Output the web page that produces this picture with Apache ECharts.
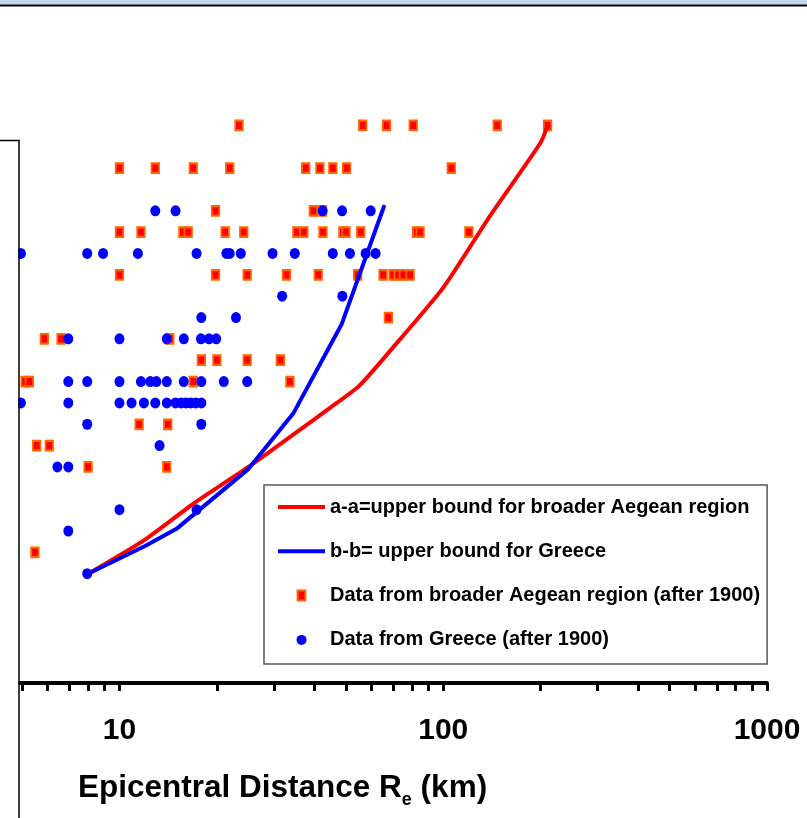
<!DOCTYPE html>
<html>
<head>
<meta charset="utf-8">
<script src="https://cdn.jsdelivr.net/npm/echarts@6.0.0/dist/echarts.min.js"></script>
<style>
  html, body { margin: 0; padding: 0; background: #fff; }
  #chart { width: 807px; height: 818px; }
</style>
</head>
<body>
<div id="chart"></div>
<script>
// 数据：横轴为震中距 (km, 对数)，纵轴为震级
const aegeanDist = [
  23.4, 56.4, 66.8, 80.8, 146.8, 210,
  10, 12.9, 16.9, 21.9, 37.6, 41.6, 45.6, 50.3, 105.9,
  19.8, 39.7, 42.4,
  10, 11.65, 15.7, 16.3, 21.2, 24.2, 35.3, 37.1, 42.5, 49.0, 50.1, 55.6, 82.7, 84.8, 120,
  10, 19.8, 24.8, 32.8, 41.1, 54.4, 65.2, 70, 72.6, 75.3, 79,
  67.7,
  5.86, 6.6, 14.3,
  17.9, 20, 24.8, 31.4,
  5.11, 5.27, 16.9, 33.6,
  11.5, 14.1,
  5.55, 6.07,
  8, 14.0,
  5.48
]
const aegeanMag = [
  6.6, 6.6, 6.6, 6.6, 6.6, 6.6,
  6.4, 6.4, 6.4, 6.4, 6.4, 6.4, 6.4, 6.4, 6.4,
  6.2, 6.2, 6.2,
  6.1, 6.1, 6.1, 6.1, 6.1, 6.1, 6.1, 6.1, 6.1, 6.1, 6.1, 6.1, 6.1, 6.1, 6.1,
  5.9, 5.9, 5.9, 5.9, 5.9, 5.9, 5.9, 5.9, 5.9, 5.9, 5.9,
  5.7,
  5.6, 5.6, 5.6,
  5.5, 5.5, 5.5, 5.5,
  5.4, 5.4, 5.4, 5.4,
  5.2, 5.2,
  5.1, 5.1,
  5.0, 5.0,
  4.6
]

const greeceDist = [
  12.9, 14.9, 42.4, 48.7, 59.7,
  4.96, 7.95, 8.9, 11.4, 17.3, 21.4, 21.9, 23.7, 29.7, 34.8, 45.6, 51.5, 57.6, 61.8,
  31.8, 48.8,
  17.9, 22.9,
  6.95, 10, 14.0, 15.8, 17.85, 18.9, 19.9,
  6.95, 7.95, 10, 11.65, 12.45, 13.0, 14.0, 15.8, 17.9, 21.0, 24.8,
  4.96, 6.95, 10, 10.9, 11.9, 12.9, 14.0, 14.9, 15.5, 16.05, 16.6, 17.2, 17.9,
  7.95, 17.9,
  13.3,
  6.43, 6.95,
  10, 17.3,
  6.95,
  7.95
]
const greeceMag = [
  6.2, 6.2, 6.2, 6.2, 6.2,
  6.0, 6.0, 6.0, 6.0, 6.0, 6.0, 6.0, 6.0, 6.0, 6.0, 6.0, 6.0, 6.0, 6.0,
  5.8, 5.8,
  5.7, 5.7,
  5.6, 5.6, 5.6, 5.6, 5.6, 5.6, 5.6,
  5.4, 5.4, 5.4, 5.4, 5.4, 5.4, 5.4, 5.4, 5.4, 5.4, 5.4,
  5.3, 5.3, 5.3, 5.3, 5.3, 5.3, 5.3, 5.3, 5.3, 5.3, 5.3, 5.3, 5.3,
  5.2, 5.2,
  5.1,
  5.0, 5.0,
  4.8, 4.8,
  4.7,
  4.5
]

// 上限曲线 a-a / b-b
const boundADist = [8, 12, 17, 25, 35, 45, 55, 70, 100, 140, 200, 210]
const boundAMag  = [4.5, 4.66, 4.83, 5.0, 5.16, 5.28, 5.38, 5.56, 5.84, 6.18, 6.52, 6.6]
const boundBDist = [8, 12, 15, 25, 34.4, 48.6, 65.6]
const boundBMag  = [4.5, 4.63, 4.71, 4.99, 5.25, 5.67, 6.22]

const xTickValues = [5, 6, 7, 8, 9, 10, 20, 30, 40, 50, 60, 70, 80, 90, 100,
  200, 300, 400, 500, 600, 700, 800, 900, 1000]
const xLabelValues = [10, 100, 1000]

const nameA = 'a-a=upper bound for broader Aegean region'
const nameB = 'b-b= upper bound for Greece'
const nameAegean = 'Data from broader Aegean region (after 1900)'
const nameGreece = 'Data from Greece (after 1900)'

const FONT = '"Liberation Sans", Arial, sans-serif'
const zip = (xs, ys) => xs.map((x, i) => [x, ys[i]])

const chart = echarts.init(document.getElementById('chart'))

chart.setOption({
  animation: false,
  backgroundColor: '#fff',
  grid: { left: 19, right: 40, top: 40, bottom: 135 },
  xAxis: {
    type: 'log',
    logBase: 10,
    min: 4.894,
    max: 1000,
    axisLine: { lineStyle: { color: '#000', width: 4 } },
    axisTick: { customValues: xTickValues, length: 8, lineStyle: { color: '#000', width: 3 } },
    axisLabel: {
      customValues: xLabelValues,
      formatter: v => String(Math.round(v)),
      margin: 33,
      fontSize: 30, fontWeight: 'bold', color: '#000', fontFamily: FONT,
    },
    splitLine: { show: false },
    minorTick: { show: false },
  },
  yAxis: { type: 'value', min: 3.988, max: 7.0, show: false },
  title: {
    text: '{m|Epicentral Distance R}{s|e}{m| (km)}',
    left: 78, top: 772, padding: 0,
    textStyle: {
      rich: {
        m: { fontSize: 31.5, lineHeight: 34, fontWeight: 'bold', color: '#000', fontFamily: FONT, verticalAlign: 'top' },
        s: { fontSize: 18, lineHeight: 18, fontWeight: 'bold', color: '#000', fontFamily: FONT, verticalAlign: 'top', padding: [19, 0, 0, 0] },
      },
    },
  },
  legend: {
    orient: 'vertical',
    left: 264, top: 485,
    padding: [12, 7, 14, 14],
    itemWidth: 47, itemHeight: 10, itemGap: 24.3,
    backgroundColor: '#fff', borderColor: '#555', borderWidth: 1.5,
    selectedMode: false,
    textStyle: { fontSize: 20, lineHeight: 20, fontWeight: 'bold', color: '#000', fontFamily: FONT },
    data: [
      { name: nameA, icon: 'path://M0 0H47V4H0Z' },
      { name: nameB, icon: 'path://M0 0H47V4H0Z' },
      { name: nameAegean, icon: 'path://M0 0H7V9H0Z' },
      { name: nameGreece, icon: 'circle' },
    ],
  },
  series: [
    {
      name: nameAegean, type: 'scatter',
      data: zip(aegeanDist, aegeanMag),
      symbol: 'rect', symbolSize: [7.5, 9.5],
      itemStyle: { color: '#ff0000', borderColor: '#ff6600', borderWidth: 2, opacity: 1 },
      z: 2,
    },
    {
      name: nameGreece, type: 'scatter',
      data: zip(greeceDist, greeceMag),
      symbol: 'circle', symbolSize: [10, 11],
      itemStyle: { color: '#0000ff', opacity: 1 },
      z: 3,
    },
    {
      name: nameA, type: 'line',
      data: zip(boundADist, boundAMag),
      symbol: 'none', smooth: 0.2,
      lineStyle: { color: '#ff0000', width: 4 },
      itemStyle: { color: '#ff0000' },
      z: 4,
    },
    {
      name: nameB, type: 'line',
      data: zip(boundBDist, boundBMag),
      symbol: 'none',
      lineStyle: { color: '#0000ff', width: 4, cap: 'round', join: 'round' },
      itemStyle: { color: '#0000ff' },
      z: 5,
    },
  ],
  graphic: [
    { type: 'rect', z: 100, shape: { x: 0, y: 0, width: 807, height: 4.5 }, style: { fill: '#bdd7ee' } },
    { type: 'line', z: 100, shape: { x1: 0, y1: 5.5, x2: 807, y2: 5.5 }, style: { stroke: '#000', lineWidth: 2 } },
    // 左侧裁切框
    { type: 'rect', z: 100, shape: { x: 0, y: 141, width: 18.3, height: 677 }, style: { fill: '#fff' } },
    { type: 'polyline', z: 101, shape: { points: [[0, 140.5], [19, 140.5], [19, 818]] }, style: { stroke: '#000', lineWidth: 1.5, fill: null } },
  ],
})
</script>
</body>
</html>
